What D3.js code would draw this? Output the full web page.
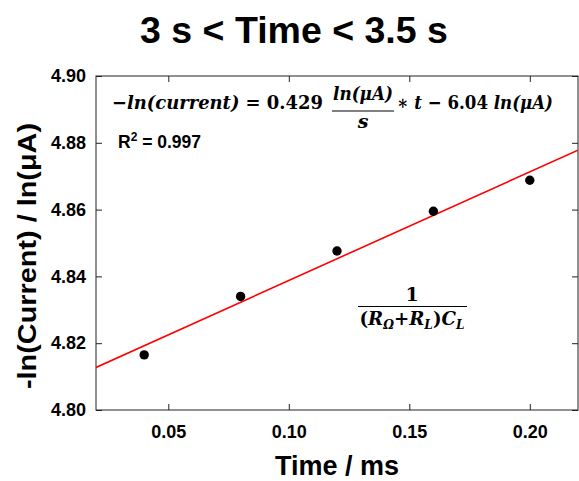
<!DOCTYPE html>
<html>
<head>
<meta charset="utf-8">
<script src="https://cdn.jsdelivr.net/npm/d3@7"></script>
<style>
  body { margin: 0; background: #fff; }
  text { font-family: Arial, "Liberation Sans", sans-serif; font-weight: bold; fill: #000; }
  .math { font-family: "DejaVu Serif", "Liberation Serif", serif; font-style: italic; font-weight: bold; }
  .up { font-style: normal; }
</style>
</head>
<body>
<div id="chart"></div>
<script>
// data
const times = [0.04, 0.08, 0.12, 0.16, 0.20];
const lnCurrent = [4.8165, 4.834, 4.8476, 4.8595, 4.8688];
const xTicks = [0.05, 0.10, 0.15, 0.20];
const yTicks = [4.80, 4.82, 4.84, 4.86, 4.88, 4.90];

const W = 579, H = 481;
const margin = { top: 76, right: 1, bottom: 71, left: 96 };
const iw = W - margin.left - margin.right;
const ih = H - margin.top - margin.bottom;

const svg = d3.select('#chart').append('svg')
  .attr('width', W)
  .attr('height', H);

const x = d3.scaleLinear().domain([0.02, 0.22]).range([0, iw]);
const y = d3.scaleLinear().domain([4.80, 4.90]).range([ih, 0]);

const g = svg.append('g').attr('transform', `translate(${margin.left},${margin.top})`);

svg.append('defs').append('clipPath').attr('id', 'clip')
  .append('rect').attr('width', iw).attr('height', ih);

// axes, ticks pointing inward, mirrored on top/right
function styleAxis(sel) {
  sel.selectAll('.domain').remove();
  sel.selectAll('.tick line').attr('stroke', '#222').attr('stroke-width', 1);
  sel.selectAll('.tick text').style('font-size', '18px');
}

g.append('g')
  .attr('transform', `translate(0,${ih})`)
  .call(d3.axisBottom(x).tickValues(xTicks).tickFormat(d3.format('.2f')).tickSizeInner(-6).tickPadding(15))
  .call(styleAxis);
g.append('g')
  .call(d3.axisTop(x).tickValues(xTicks).tickFormat('').tickSizeInner(-6))
  .call(styleAxis);
g.append('g')
  .call(d3.axisLeft(y).tickValues(yTicks).tickFormat(d3.format('.2f')).tickSizeInner(-6).tickPadding(10))
  .call(styleAxis);
g.append('g')
  .attr('transform', `translate(${iw},0)`)
  .call(d3.axisRight(y).tickValues(yTicks).tickFormat('').tickSizeInner(-6))
  .call(styleAxis);

g.append('rect')
  .attr('width', iw).attr('height', ih)
  .attr('fill', 'none').attr('stroke', '#222').attr('stroke-width', 1);

// least-squares fit
const mx = d3.mean(times), my = d3.mean(lnCurrent);
const slope = d3.sum(times, (t, i) => (t - mx) * (lnCurrent[i] - my)) / d3.sum(times, t => (t - mx) ** 2);
const icpt = my - slope * mx;
const fitX = x.domain();

g.append('line')
  .attr('clip-path', 'url(#clip)')
  .attr('x1', x(fitX[0])).attr('y1', y(icpt + slope * fitX[0]))
  .attr('x2', x(fitX[1])).attr('y2', y(icpt + slope * fitX[1]))
  .attr('stroke', '#ff0000').attr('stroke-width', 1.6);

g.selectAll('circle')
  .data(times)
  .enter()
  .append('circle')
  .attr('cx', d => x(d))
  .attr('cy', (d, i) => y(lnCurrent[i]))
  .attr('r', 4.7)
  .attr('fill', '#000');

// titles
svg.append('text')
  .attr('x', 294).attr('y', 43)
  .attr('text-anchor', 'middle')
  .style('font-size', '37.5px')
  .text('3 s < Time < 3.5 s');

svg.append('text')
  .attr('x', margin.left + iw / 2).attr('y', 475)
  .attr('text-anchor', 'middle')
  .style('font-size', '27px')
  .text('Time / ms');

svg.append('text')
  .attr('transform', 'translate(36,256) rotate(-90)')
  .attr('text-anchor', 'middle')
  .attr('textLength', 266).attr('lengthAdjust', 'spacingAndGlyphs')
  .style('font-size', '26px')
  .text('-ln(Current) / ln(\u03bcA)');

// equation
const eq = svg.append('g');
eq.append('text').attr('class', 'math')
  .attr('x', 112).attr('y', 109).style('font-size', '19px')
  .attr('textLength', 211).attr('lengthAdjust', 'spacingAndGlyphs')
  .html('<tspan class="up">\u2212</tspan>ln(current)<tspan class="up"> = 0.429</tspan>');
eq.append('text').attr('class', 'math')
  .attr('x', 363).attr('y', 100).attr('text-anchor', 'middle').style('font-size', '18px')
  .attr('textLength', 60).attr('lengthAdjust', 'spacingAndGlyphs')
  .text('ln(\u03bcA)');
eq.append('line')
  .attr('x1', 332).attr('x2', 394).attr('y1', 111).attr('y2', 111)
  .attr('stroke', '#000').attr('stroke-width', 1);
eq.append('text').attr('class', 'math')
  .attr('x', 363).attr('y', 128).attr('text-anchor', 'middle').style('font-size', '19px')
  .text('s');
eq.append('text').attr('class', 'math')
  .attr('x', 397).attr('y', 109).style('font-size', '19px')
  .attr('textLength', 156).attr('lengthAdjust', 'spacingAndGlyphs')
  .html('<tspan class="up">\u2217 </tspan>t<tspan class="up"> \u2212 6.04 </tspan>ln(\u03bcA)');

svg.append('text')
  .attr('x', 118).attr('y', 148)
  .style('font-size', '17.5px')
  .html('R<tspan dy="-7" font-size="12px">2</tspan><tspan dy="7"> = 0.997</tspan>');

// 1/((RΩ+RL)CL)
const fr = svg.append('g');
fr.append('text').attr('class', 'math up')
  .attr('x', 412).attr('y', 301).attr('text-anchor', 'middle')
  .style('font-size', '19px')
  .text('1');
fr.append('line')
  .attr('x1', 358).attr('x2', 467).attr('y1', 306.5).attr('y2', 306.5)
  .attr('stroke', '#000').attr('stroke-width', 1);
fr.append('text').attr('class', 'math')
  .attr('x', 412).attr('y', 325).attr('text-anchor', 'middle')
  .attr('textLength', 105).attr('lengthAdjust', 'spacingAndGlyphs')
  .style('font-size', '18px')
  .html('<tspan class="up">(</tspan>R<tspan dy="4" font-size="12px">\u03a9</tspan><tspan dy="-4" class="up">+</tspan>R<tspan dy="4" font-size="12px">L</tspan><tspan dy="-4" class="up">)</tspan>C<tspan dy="4" font-size="12px">L</tspan>');
</script>
</body>
</html>
